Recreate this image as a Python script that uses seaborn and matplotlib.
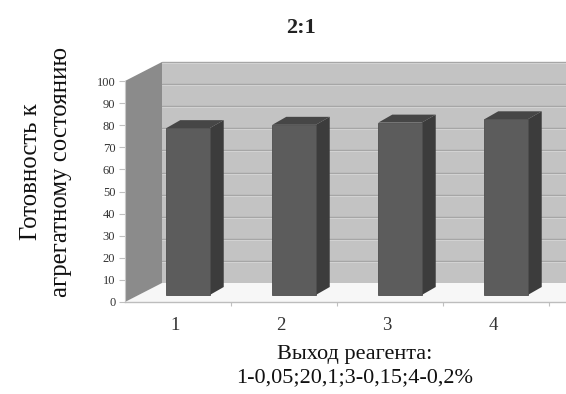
import numpy as np
import pandas as pd
import matplotlib
matplotlib.use("Agg")
import matplotlib.pyplot as plt
import matplotlib.transforms as mtransforms
from matplotlib.patches import Polygon
from matplotlib.lines import Line2D
import seaborn as sns

# ---- data -------------------------------------------------------------
categories = ["1", "2", "3", "4"]
readiness = [75.5, 77.0, 78.0, 79.5]
value_ticks = [0, 10, 20, 30, 40, 50, 60, 70, 80, 90, 100]
title_text = "2:1"
y_label = "Готовность к\nагрегатному состоянию"
x_label = "Выход реагента:\n1-0,05;20,1;3-0,15;4-0,2%"

# ---- style ------------------------------------------------------------
sns.set_theme(style="white")
plt.rcParams["font.family"] = ["Liberation Serif", "DejaVu Serif"]

W, H = 566, 394
fig = plt.figure(figsize=(W / 100, H / 100), dpi=100)
fig.patch.set_facecolor("white")
# front plane of the 3D box
ax = fig.add_axes([125 / W, 92 / H, 441 / W, 221 / H])

df = pd.DataFrame({"cat": categories, "val": readiness})

# bars (front faces)
sns.barplot(data=df, x="cat", y="val", order=categories, color="#5c5c5c",
            saturation=1, width=0.41, ax=ax, zorder=4, edgecolor="#4e4e4e",
            linewidth=0.6)
bars = list(ax.patches)

CW = 106.0                      # pixels per category
XL = (-0.5, -0.5 + 441 / CW)
ax.set_xlim(*XL)
ax.set_ylim(0, 100)

# depth of the box (data units) and where the bars sit inside it
DX, DY = 37 / CW, 19 / 2.21
s0 = (10 / CW, 7 / 2.21)        # front face of the bars
s1 = (24 / CW, 15 / 2.21)       # back face of the bars
XR = XL[1] + 1.0


def poly(pts, fc, z, ec="none", lw=0):
    p = Polygon(pts, closed=True, fc=fc, ec=ec, lw=lw, clip_on=False, zorder=z)
    ax.add_patch(p)
    return p


# floor, back wall, left wall
poly([(XL[0], 0), (XR, 0), (XR + DX, DY), (XL[0] + DX, DY)], "#f7f7f7", 0.5)
poly([(XL[0] + DX, DY), (XR + DX, DY), (XR + DX, 100 + DY), (XL[0] + DX, 100 + DY)],
     "#c3c3c3", 0.6)
poly([(XL[0], 0), (XL[0], 100), (XL[0] + DX, 100 + DY), (XL[0] + DX, DY)],
     "#8b8b8b", 0.7)

# gridlines on the back wall
px = 100 / 221.0
for v in value_ticks[1:]:
    ax.add_line(Line2D([XL[0] + DX, XR + DX], [v + DY, v + DY], color="#a4a4a4",
                       lw=1.0, zorder=0.8, clip_on=False))
    ax.add_line(Line2D([XL[0] + DX, XR + DX], [v + DY - px, v + DY - px],
                       color="#d2d2d2", lw=0.8, zorder=0.8, clip_on=False))

# give the bars depth: shift fronts back, add side and top faces
shift = mtransforms.Affine2D().translate(*s0) + ax.transData
for b in bars:
    b.set_transform(shift)
    b.set_clip_on(False)
    x0, w, h = b.get_x(), b.get_width(), b.get_height()
    x1 = x0 + w
    poly([(x1 + s0[0], s0[1]), (x1 + s0[0], h + s0[1]),
          (x1 + s1[0], h + s1[1]), (x1 + s1[0], s1[1])], "#3c3c3c", 3.5)
    poly([(x0 + s0[0], h + s0[1]), (x1 + s0[0], h + s0[1]),
          (x1 + s1[0], h + s1[1]), (x0 + s1[0], h + s1[1])], "#464646", 3.5)

# axes decoration
for s in ["top", "right"]:
    ax.spines[s].set_visible(False)
ax.spines["left"].set_color("#c8c8c8")
ax.spines["left"].set_linewidth(0.8)
ax.spines["bottom"].set_color("#bdbdbd")
ax.spines["bottom"].set_linewidth(1.0)
ax.spines["left"].set_zorder(1)

ax.set_yticks(value_ticks)
ax.set_yticklabels([str(v) for v in value_ticks])
ax.tick_params(axis="y", which="major", direction="out", length=4, width=0.8,
               color="#c0c0c0", pad=3, labelsize=9, labelcolor="#333333", left=True)
ax.set_xticks(range(len(categories)))
ax.set_xticklabels(categories)
ax.set_xticks([0.5, 1.5, 2.5, 3.5], minor=True)
ax.tick_params(axis="x", which="major", length=0, pad=11, labelsize=13.5,
               labelcolor="#333333")
ax.tick_params(axis="x", which="minor", direction="out", length=3, width=0.8,
               color="#c0c0c0", bottom=True)
for lbl in ax.get_xticklabels():
    lbl.set_transform(lbl.get_transform()
                      + mtransforms.ScaledTranslation(-3 / 100, 0, fig.dpi_scale_trans))
ax.set_xlabel("")
ax.set_ylabel("")

fig.text(301 / W, 1 - 28 / H, title_text, ha="center", va="center",
         fontsize=16, fontweight="bold", color="#222222")
fig.text(46 / W, 1 - 172 / H, y_label, rotation=90, ha="center", va="center",
         multialignment="center", fontsize=17.8, linespacing=1.5, color="#111111")
fig.text(355 / W, 1 - 366 / H, x_label, ha="center", va="center",
         multialignment="center", fontsize=16, linespacing=1.3, color="#111111")

fig.savefig("out.png", dpi=100, facecolor="white")
